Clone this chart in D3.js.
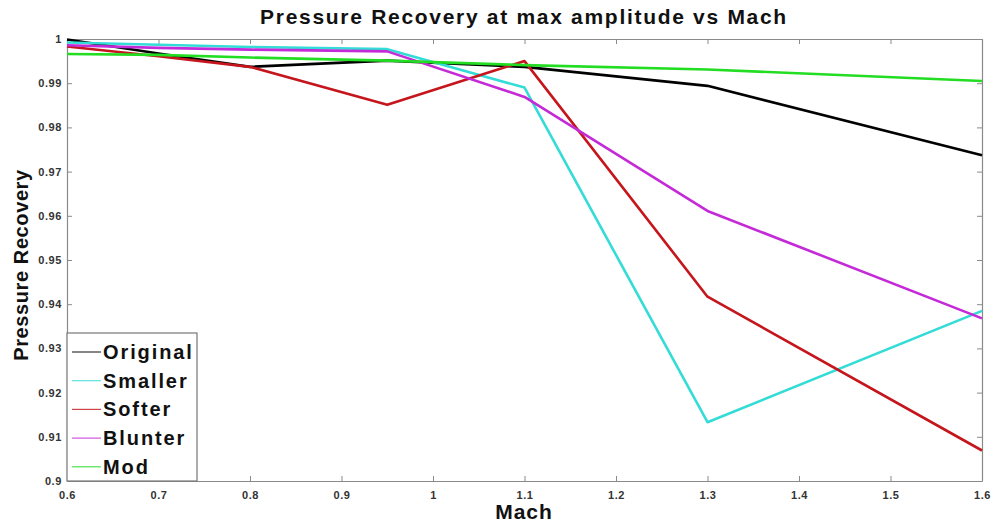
<!DOCTYPE html>
<html>
<head>
<meta charset="utf-8">
<script src="https://cdn.jsdelivr.net/npm/d3@7"></script>
<style>
  html, body { margin: 0; padding: 0; background: #fff; }
  svg { display: block; }
</style>
</head>
<body>
<svg id="chart" width="994" height="525"></svg>
<script>
// Mach numbers at which each configuration was evaluated
const mach = [0.6, 0.7, 0.8, 0.95, 1.1, 1.3, 1.6];

// Pressure recovery at max amplitude for each configuration
const original = [0.9999, 0.9967, 0.9937, 0.9951, 0.9937, 0.9894, 0.9737];
const smaller  = [0.9992, 0.9987, 0.9982, 0.9977, 0.9890, 0.9133, 0.9385];
const softer   = [0.9983, 0.9961, 0.9937, 0.9851, 0.9950, 0.9417, 0.9069];
const blunter  = [0.9986, 0.9980, 0.9976, 0.9972, 0.9869, 0.9611, 0.9368];
const mod      = [0.9966, 0.9964, 0.9958, 0.9951, 0.9941, 0.9931, 0.9905];

const seriesNames  = ["Original", "Smaller", "Softer", "Blunter", "Mod"];
const seriesColors = ["#000000", "#33dcd6", "#c4161c", "#c42ad8", "#22dd22"];
const seriesValues = [original, smaller, softer, blunter, mod];

const xTicks = [0.6, 0.7, 0.8, 0.9, 1, 1.1, 1.2, 1.3, 1.4, 1.5, 1.6];
const yTicks = [0.9, 0.91, 0.92, 0.93, 0.94, 0.95, 0.96, 0.97, 0.98, 0.99, 1];

const svg = d3.select("#chart");
const m = { left: 67, right: 982, top: 39, bottom: 481 };

const x = d3.scaleLinear().domain([0.6, 1.6]).range([m.left, m.right]);
const y = d3.scaleLinear().domain([0.9, 1.0]).range([m.bottom, m.top]);

const axisColor = "#8a8a8a";
const font = "Liberation Sans, Arial, sans-serif";

// Bottom axis
const gx = svg.append("g").attr("transform", `translate(0,${m.bottom})`)
  .call(d3.axisBottom(x).tickValues(xTicks).tickSizeInner(-5).tickSizeOuter(0)
    .tickPadding(10).tickFormat(d => d3.format("")(+d.toFixed(1))));
// Top axis (box, ticks only)
const gxt = svg.append("g").attr("transform", `translate(0,${m.top})`)
  .call(d3.axisTop(x).tickValues(xTicks).tickSizeInner(-5).tickSizeOuter(0).tickFormat(""));
// Left axis
const gy = svg.append("g").attr("transform", `translate(${m.left},0)`)
  .call(d3.axisLeft(y).tickValues(yTicks).tickSizeInner(5).tickSizeOuter(0)
    .tickPadding(3).tickFormat(d => d3.format("")(+d.toFixed(2))));
// Right axis (box, ticks only)
const gyr = svg.append("g").attr("transform", `translate(${m.right},0)`)
  .call(d3.axisRight(y).tickValues(yTicks).tickSizeInner(-5).tickSizeOuter(0).tickFormat(""));

[gx, gxt, gy, gyr].forEach(g => {
  g.selectAll("path.domain").attr("stroke", axisColor).attr("stroke-width", 1.2);
  g.selectAll(".tick line").attr("stroke", axisColor).attr("stroke-width", 1);
  g.selectAll(".tick text").attr("fill", "#333").attr("font-family", font)
    .attr("font-size", 11).attr("font-weight", "bold").attr("letter-spacing", 0.6);
});
// Left-axis ticks point inward into the plot as well
gy.selectAll(".tick line").attr("x2", 5);
gy.selectAll(".tick text").attr("x", -5);
gy.select(".tick:first-of-type line").remove();
gy.select(".tick:last-of-type line").remove();
gx.select(".tick:first-of-type line").remove();
gx.select(".tick:last-of-type line").remove();

// Lines
const line = d3.line().x((d, i) => x(mach[i])).y(d => y(d));
svg.append("g").selectAll("path")
  .data(seriesValues)
  .join("path")
  .attr("d", d => line(d))
  .attr("fill", "none")
  .attr("stroke", (d, i) => seriesColors[i])
  .attr("stroke-width", 2.6)
  .attr("stroke-linejoin", "round");

// Title and axis labels
svg.append("text")
  .attr("x", 524).attr("y", 24)
  .attr("text-anchor", "middle")
  .attr("font-family", font)
  .attr("font-weight", "bold").attr("font-size", 21).attr("fill", "#111")
  .attr("letter-spacing", 1.7)
  .text("Pressure Recovery at max amplitude vs Mach");

svg.append("text")
  .attr("x", 524).attr("y", 519)
  .attr("text-anchor", "middle")
  .attr("font-family", font)
  .attr("font-weight", "bold").attr("font-size", 21).attr("fill", "#111")
  .attr("letter-spacing", 1)
  .text("Mach");

svg.append("text")
  .attr("transform", "translate(28,265) rotate(-90)")
  .attr("text-anchor", "middle")
  .attr("font-family", font)
  .attr("font-weight", "bold").attr("font-size", 20).attr("fill", "#111")
  .attr("letter-spacing", 0.6)
  .text("Pressure Recovery");

// Legend
const legend = svg.append("g");
legend.append("rect")
  .attr("x", m.left).attr("y", 333)
  .attr("width", 130).attr("height", m.bottom - 333)
  .attr("fill", "#fff").attr("stroke", "#777").attr("stroke-width", 1.2);
const items = legend.selectAll("g.item")
  .data(seriesNames)
  .join("g").attr("class", "item")
  .attr("transform", (d, i) => `translate(0,${352 + i * 28.7})`);
items.append("line")
  .attr("x1", 72).attr("x2", 101).attr("y1", 0).attr("y2", 0)
  .attr("stroke", (d, i) => seriesColors[i]).attr("stroke-width", 1.2)
  .attr("stroke-opacity", 0.8);
items.append("text")
  .attr("x", 103).attr("y", 7)
  .attr("font-family", font)
  .attr("font-weight", "bold").attr("font-size", 20).attr("fill", "#111")
  .attr("letter-spacing", 1.9)
  .text(d => d);
</script>
</body>
</html>
